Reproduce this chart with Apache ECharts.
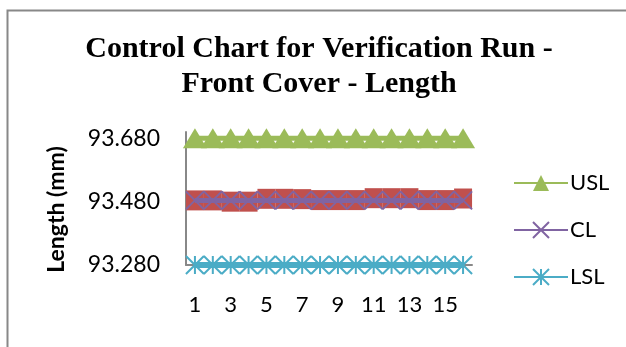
<!DOCTYPE html>
<html><head><meta charset="utf-8">
<script src="https://cdn.jsdelivr.net/npm/echarts@6/dist/echarts.min.js"></script>
<style>html,body{margin:0;padding:0;background:#fff}#c{width:626px;height:347px}</style>
</head><body><div id="c"></div>
<script>
var categories = ['1','2','3','4','5','6','7','8','9','10','11','12','13','14','15','16'];
var measured = [93.484, 93.484, 93.480, 93.480, 93.489, 93.489, 93.488, 93.485, 93.485, 93.485, 93.491, 93.491, 93.491, 93.485, 93.485, 93.490];
var usl = [93.68,93.68,93.68,93.68,93.68,93.68,93.68,93.68,93.68,93.68,93.68,93.68,93.68,93.68,93.68,93.68];
var cl = [93.484,93.484,93.484,93.484,93.484,93.484,93.484,93.484,93.484,93.484,93.484,93.484,93.484,93.484,93.484,93.484];
var lsl = [93.28,93.28,93.28,93.28,93.28,93.28,93.28,93.28,93.28,93.28,93.28,93.28,93.28,93.28,93.28,93.28];
var yTicks = [93.28, 93.48, 93.68];

var FONT = 'Lato';
var chart = echarts.init(document.getElementById('c'), null, {renderer: 'canvas'});
var xMark = 'path://M0,0L10,10M10,0L0,10';
var starMark = 'path://M0,0L10,10M10,0L0,10M5,0L5,10';
chart.setOption({
  animation: false,
  backgroundColor: '#fff',
  graphic: [{
    type: 'rect', left: 5, top: 8, z: -10,
    shape: {x: 0, y: 0, width: 700, height: 400},
    style: {fill: 'none', stroke: '#888', lineWidth: 2}
  }],
  title: {
    text: 'Control Chart for Verification Run -\nFront Cover - Length',
    left: 314, textAlign: 'center', top: 27,
    textStyle: {fontFamily: 'Liberation Serif', fontWeight: 'bold', fontSize: 30, lineHeight: 35, color: '#000'}
  },
  legend: {
    data: ['USL', 'CL', 'LSL'],
    orient: 'vertical', left: 508, top: 167, itemWidth: 54, itemHeight: 20, itemGap: 25,
    textStyle: {fontFamily: FONT, fontSize: 22, color: '#000', padding: [0,0,0,-3]}
  },
  grid: {left: 186, right: 154, top: 132, bottom: 82, containLabel: false},
  xAxis: {
    type: 'category', data: categories, boundaryGap: true,
    axisLine: {lineStyle: {color: '#888', width: 2}},
    axisTick: {show: false},
    axisLabel: {interval: 1, margin: 29, fontFamily: FONT, fontSize: 22, color: '#000'}
  },
  yAxis: {
    type: 'value', min: 93.28, max: 93.70, interval: 0.2,
    name: 'Length (mm)', nameLocation: 'middle', nameGap: 118, nameRotate: 90,
    nameTextStyle: {fontFamily: FONT, fontWeight: 'bold', fontSize: 23, color: '#000', padding: [0, 22, 0, 0]},
    axisLine: {show: true, lineStyle: {color: '#888', width: 2}},
    axisTick: {show: false},
    splitLine: {show: false},
    axisLabel: {
      margin: 26, fontFamily: FONT, fontSize: 23, color: '#000',
      formatter: function (v) {
        for (var i = 0; i < yTicks.length; i++) { if (Math.abs(v - yTicks[i]) < 1e-6) return yTicks[i].toFixed(3); }
        return '';
      }
    }
  },
  series: [
    {name: 'Measured', type: 'line', data: measured, symbol: 'rect', symbolSize: [18, 20], showAllSymbol: true,
     lineStyle: {width: 0}, itemStyle: {color: '#C0504D'}, z: 2},
    {name: 'USL', type: 'line', data: usl, symbol: 'triangle', symbolSize: [24, 20], showAllSymbol: true,
     lineStyle: {width: 5, color: '#9BBB59'}, itemStyle: {color: '#9BBB59'}, z: 3},
    {name: 'CL', type: 'line', data: cl, symbol: xMark, symbolSize: [18, 18], showAllSymbol: true,
     lineStyle: {width: 5, color: '#8064A2'}, itemStyle: {color: 'none', borderColor: '#8064A2', borderWidth: 2}, z: 4},
    {name: 'LSL', type: 'line', data: lsl, symbol: starMark, symbolSize: [18, 18], showAllSymbol: true,
     lineStyle: {width: 6, color: '#4BACC6'}, itemStyle: {color: 'none', borderColor: '#4BACC6', borderWidth: 2}, z: 5}
  ]
});
</script></body></html>
